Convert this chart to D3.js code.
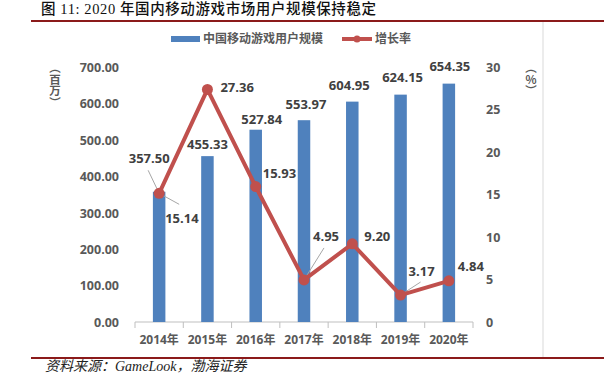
<!DOCTYPE html>
<html>
<head>
<meta charset="utf-8">
<script src="https://cdn.jsdelivr.net/npm/d3@7"></script>
<style>
  body { margin: 0; background: #fff; }
  svg { display: block; }
  text { font-family: "Open Sans", "Noto Sans CJK SC", sans-serif; }
</style>
</head>
<body>
<svg id="chart" width="604" height="382"></svg>
<script>
// data
var years = ['2014年', '2015年', '2016年', '2017年', '2018年', '2019年', '2020年'];
var users = [357.50, 455.33, 527.84, 553.97, 604.95, 624.15, 654.35];
var growth = [15.14, 27.36, 15.93, 4.95, 9.20, 3.17, 4.84];
var leftTicks = [0, 100, 200, 300, 400, 500, 600, 700];
var rightTicks = [0, 5, 10, 15, 20, 25, 30];

// label placement (layout only)
var barLabelOff = [[-10, -33], [0, -12], [6, -10], [2, -16], [-3, -16], [2, -17], [1, -17]];
var lineLabelOff = [[6, 25], [13, -2], [7, -13], [9, -43], [12, -7], [8, -24], [9, -14]];
var leaders = {0: [[-11, -23], [20, 11]], 3: [[20, -32]], 5: [[20, -13]]};

var svg = d3.select('#chart');
var blue = '#4F81BD', red = '#C0504D', txt = '#404040';

// title + frame lines
svg.append('text')
	.attr('x', 41).attr('y', 14)
	.style('font-family', '"Liberation Serif", "Noto Sans CJK SC", serif')
	.style('font-size', '14.5px').style('font-weight', '500')
	.style('letter-spacing', '0.6px')
	.attr('fill', '#111')
	.text('图 11: 2020 年国内移动游戏市场用户规模保持稳定');

svg.append('line').attr('x1', 31).attr('x2', 604).attr('y1', 21).attr('y2', 21)
	.attr('stroke', '#8B1A1A').attr('stroke-width', 2);
svg.append('line').attr('x1', 31).attr('x2', 604).attr('y1', 358).attr('y2', 358)
	.attr('stroke', '#8B1A1A').attr('stroke-width', 2);
svg.append('line').attr('x1', 543).attr('x2', 543).attr('y1', 22).attr('y2', 357)
	.attr('stroke', '#D9D9D9').attr('stroke-width', 1);

svg.append('text')
	.attr('x', 45).attr('y', 371)
	.style('font-family', '"Liberation Serif", "Noto Sans CJK SC", serif')
	.style('font-size', '14px').style('font-style', 'italic')
	.attr('fill', '#222')
	.text('资料来源：GameLook，渤海证券');

// scales
var x = d3.scaleBand().domain(years).range([135, 473]);
var yL = d3.scaleLinear().domain([0, 700]).range([322, 67]);
var yR = d3.scaleLinear().domain([0, 30]).range([322, 67]);
var cx = function(i) { return x(years[i]) + x.bandwidth() / 2; };

// left axis
var axL = svg.append('g').attr('transform', 'translate(119,0)')
	.call(d3.axisLeft(yL).tickValues(leftTicks).tickFormat(d3.format('.2f')).tickSize(0).tickPadding(0));
axL.select('.domain').remove();
axL.selectAll('text').attr('fill', '#595959').style('font-size', '12.5px').style('font-weight', 'bold')
	.style('font-family', '"Open Sans", sans-serif').attr('dy', '0.35em');

// right axis
var axR = svg.append('g').attr('transform', 'translate(486,0)')
	.call(d3.axisRight(yR).tickValues(rightTicks).tickSize(0).tickPadding(0));
axR.select('.domain').remove();
axR.selectAll('text').attr('fill', '#595959').style('font-size', '12.5px').style('font-weight', 'bold')
	.style('font-family', '"Open Sans", sans-serif').attr('dy', '0.35em');

// axis titles (vertical)
svg.append('text').attr('x', 55).attr('y', 62)
	.style('writing-mode', 'vertical-rl').style('font-size', '11.5px').style('font-weight', 'bold')
	.style('font-family', '"Noto Sans CJK SC", sans-serif')
	.attr('fill', '#595959').text('（百万）');
svg.append('text').attr('x', 531).attr('y', 62)
	.style('writing-mode', 'vertical-rl').style('font-size', '11.5px').style('font-weight', 'bold')
	.style('font-family', '"Noto Sans CJK SC", sans-serif')
	.attr('fill', '#595959').text('（％）');

// x axis
var axX = svg.append('g').attr('transform', 'translate(0,322)')
	.call(d3.axisBottom(x).tickSize(0).tickPadding(13));
axX.select('.domain').attr('stroke', '#BFBFBF').attr('d', 'M135,0H473');
axX.selectAll('text').attr('fill', '#595959').style('font-size', '12px').style('font-weight', 'bold')
	.style('font-family', '"Open Sans", "Noto Sans CJK SC", sans-serif');
var bounds = years.map(function(d) { return x(d); }).concat([x.range()[1]]);
svg.append('g').selectAll('line').data(bounds).enter().append('line')
	.attr('x1', function(d) { return d; }).attr('x2', function(d) { return d; })
	.attr('y1', 322).attr('y2', 328)
	.attr('stroke', '#BFBFBF');

// bars
var bw = 12.5;
svg.append('g').selectAll('rect').data(users).enter().append('rect')
	.attr('x', function(d, i) { return cx(i) - bw / 2; })
	.attr('y', function(d) { return yL(d); })
	.attr('width', bw)
	.attr('height', function(d) { return yL(0) - yL(d); })
	.attr('fill', blue);

// leader lines
Object.keys(leaders).forEach(function(k) {
	var i = +k;
	leaders[k].forEach(function(o) {
		svg.append('line')
			.attr('x1', cx(i)).attr('y1', yR(growth[i]))
			.attr('x2', cx(i) + o[0]).attr('y2', yR(growth[i]) + o[1])
			.attr('stroke', '#A6A6A6').attr('stroke-width', 1);
	});
});

// growth line
var line = d3.line().x(function(d, i) { return cx(i); }).y(function(d) { return yR(d); });
svg.append('path').datum(growth)
	.attr('d', line).attr('fill', 'none')
	.attr('stroke', red).attr('stroke-width', 4).attr('stroke-linejoin', 'round');
svg.append('g').selectAll('circle').data(growth).enter().append('circle')
	.attr('cx', function(d, i) { return cx(i); })
	.attr('cy', function(d) { return yR(d); })
	.attr('r', 5.5).attr('fill', red);

// bar value labels
svg.append('g').selectAll('text').data(users).enter().append('text')
	.attr('x', function(d, i) { return cx(i) + barLabelOff[i][0]; })
	.attr('y', function(d, i) { return yL(d) + barLabelOff[i][1]; })
	.attr('dy', '0.35em').attr('text-anchor', 'middle')
	.style('font-size', '13px').style('font-weight', 'bold').attr('fill', txt)
	.text(function(d) { return d3.format('.2f')(d); });

// growth value labels
svg.append('g').selectAll('text').data(growth).enter().append('text')
	.attr('x', function(d, i) { return cx(i) + lineLabelOff[i][0]; })
	.attr('y', function(d, i) { return yR(d) + lineLabelOff[i][1]; })
	.attr('dy', '0.35em')
	.style('font-size', '13px').style('font-weight', 'bold').attr('fill', txt)
	.text(function(d) { return d3.format('.2f')(d); });

// legend
var lg = svg.append('g');
lg.append('rect').attr('x', 171).attr('y', 36).attr('width', 29).attr('height', 6).attr('fill', blue);
lg.append('text').attr('x', 203).attr('y', 39).attr('dy', '0.35em')
	.style('font-size', '12px').style('font-weight', 'bold')
	.style('font-family', '"Noto Sans CJK SC", sans-serif')
	.attr('fill', '#595959').text('中国移动游戏用户规模');
lg.append('line').attr('x1', 342).attr('x2', 372).attr('y1', 39).attr('y2', 39)
	.attr('stroke', red).attr('stroke-width', 4);
lg.append('circle').attr('cx', 357).attr('cy', 39).attr('r', 3.5).attr('fill', red);
lg.append('text').attr('x', 375).attr('y', 39).attr('dy', '0.35em')
	.style('font-size', '12px').style('font-weight', 'bold')
	.style('font-family', '"Noto Sans CJK SC", sans-serif')
	.attr('fill', '#595959').text('增长率');
</script>
</body>
</html>
